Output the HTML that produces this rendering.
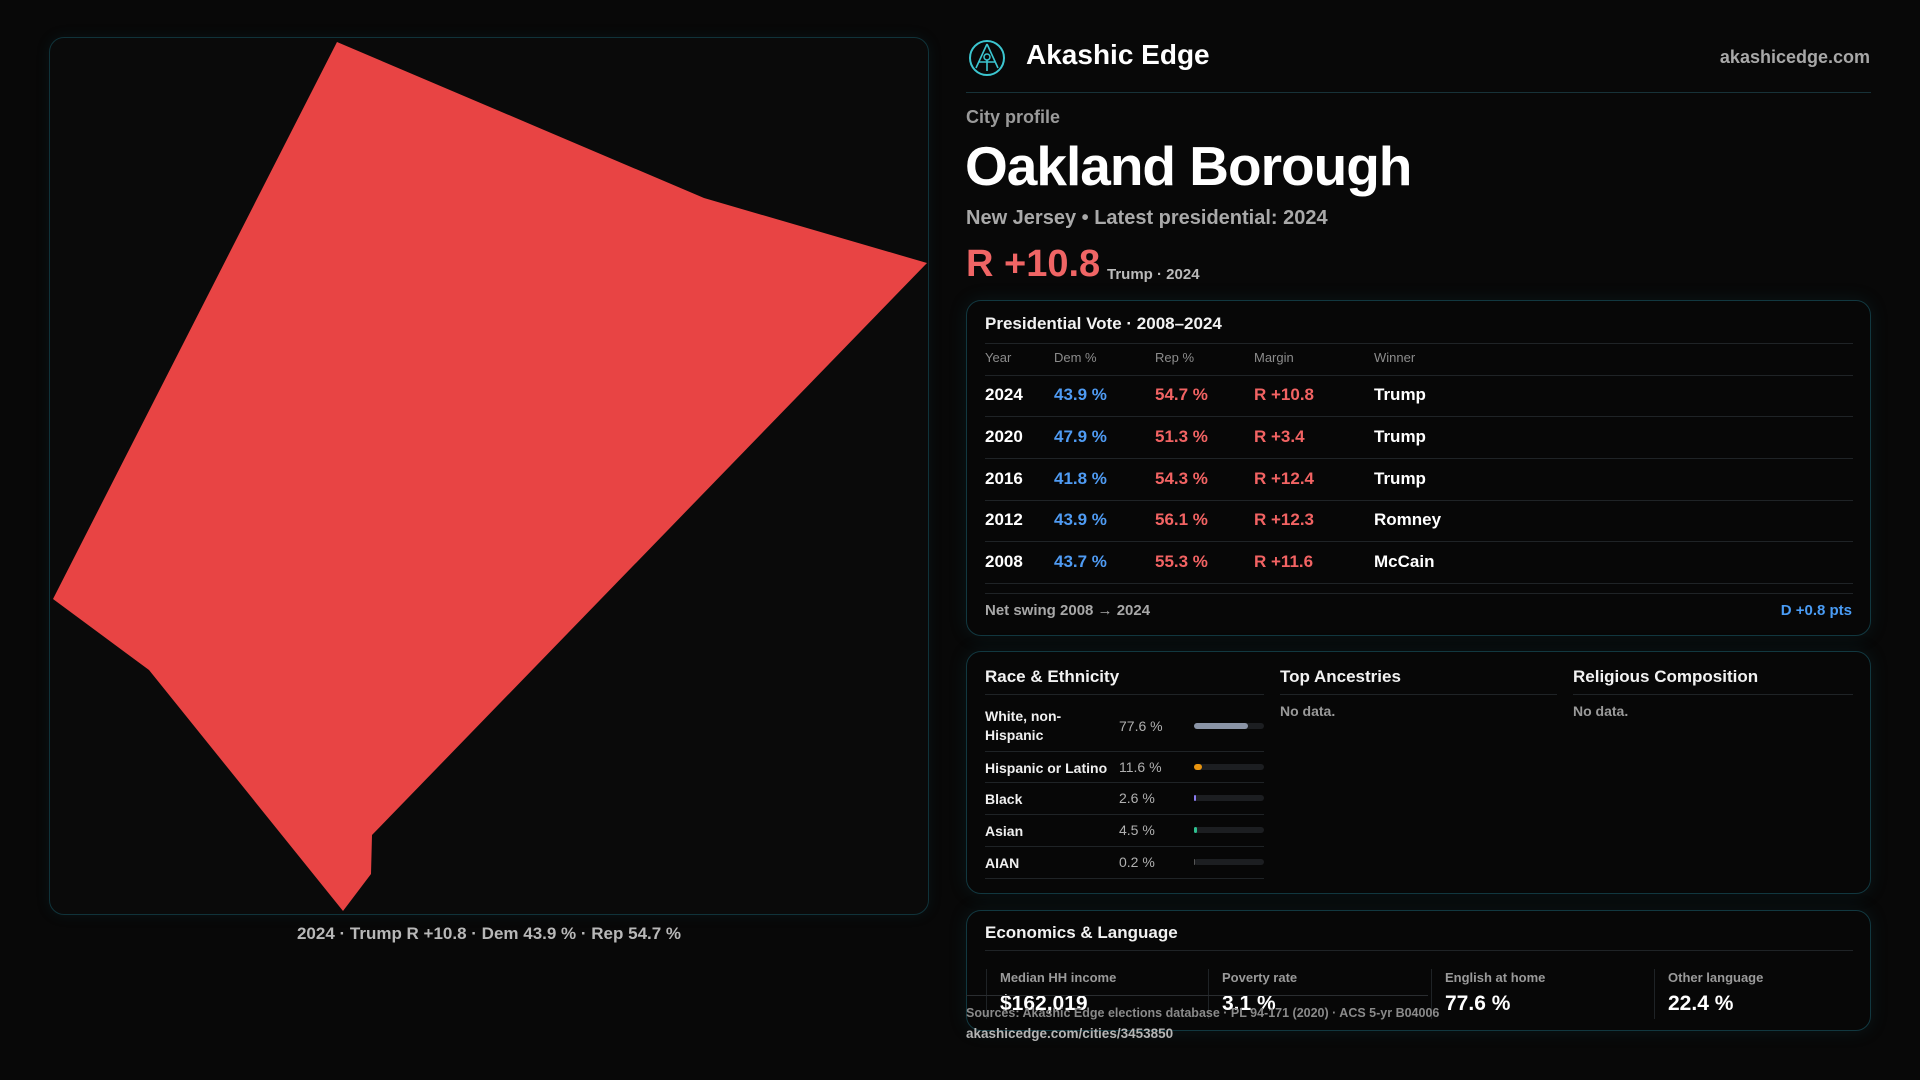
<!DOCTYPE html>
<html><head><meta charset="utf-8">
<style>
*{box-sizing:border-box;margin:0;padding:0}
body{width:1920px;height:1080px;background:#080808;font-family:"Liberation Sans",sans-serif;color:#fff;position:relative;overflow:hidden}
.abs{position:absolute}
.card{position:absolute;left:966px;width:905px;border:1px solid #123840;border-radius:15px;background:#070707;box-shadow:0 0 18px rgba(20,90,100,0.18)}
.ct{position:absolute;font-size:17px;font-weight:bold;color:#f2f2f2;white-space:nowrap}
.ln{position:absolute;height:1px;background:#1f2326}
.t{position:absolute;white-space:nowrap}
</style></head><body>
<div class="abs" style="left:49px;top:37px;width:880px;height:878px;border:1px solid #10333a;border-radius:15px;background:#0a0a0a;box-shadow:0 0 14px rgba(20,90,100,0.15)"></div>
<svg class="abs" style="left:0;top:0" width="960" height="960">
<polygon id="shape" fill="#e84444" points=""/>
</svg>
<div class="t" style="left:49px;width:880px;text-align:center;top:924px;font-size:17px;font-weight:bold;color:#b8b8b8">2024 · Trump R +10.8 · Dem 43.9 % · Rep 54.7 %</div>

<svg class="abs" style="left:967px;top:38px" width="40" height="40">
<circle cx="20" cy="20" r="17" fill="none" stroke="#3cc6d0" stroke-width="2"/>
<path d="M20 6 L9 30 M20 6 L31 30 M12 24 L28 24" stroke="#3cc6d0" stroke-width="1.6" fill="none"/>
<circle cx="20" cy="19" r="3" fill="none" stroke="#3cc6d0" stroke-width="1.5"/><path d="M20 22 L20 33" stroke="#3cc6d0" stroke-width="1.6"/>
</svg>
<div class="t" style="left:1026px;top:39px;font-size:28px;font-weight:bold">Akashic Edge</div>
<div class="t" style="right:50px;top:47px;font-size:18px;font-weight:bold;color:#a8a8a8">akashicedge.com</div>
<div class="ln" style="left:966px;width:905px;top:92px;background:#173238"></div>
<div class="t" style="left:966px;top:107px;font-size:18px;color:#9a9a9a;font-weight:bold">City profile</div>
<div class="t" style="left:965px;top:134px;font-size:55px;font-weight:bold;letter-spacing:-1px">Oakland Borough</div>
<div class="t" style="left:966px;top:207px;font-size:20px;font-weight:bold;color:#a9a9a9">New Jersey • Latest presidential: 2024</div>
<div class="t" style="left:966px;top:243px;font-size:38px;font-weight:bold;color:#f06565">R +10.8</div>
<div class="t" style="left:1107px;top:266px;font-size:15px;font-weight:bold;color:#bbb">Trump · 2024</div>

<div class="card" style="top:300px;height:336px"></div>
<div class="ct" style="left:985px;top:314px">Presidential Vote · 2008–2024</div>
<div class="ln" style="left:985px;width:868px;top:343px"></div>
<div id="vote"></div>
<div class="t" style="left:985px;top:602px;font-size:15px;font-weight:bold;color:#a8a8a8">Net swing 2008 → 2024</div>
<div class="t" style="right:68px;top:602px;font-size:15px;font-weight:bold;color:#4a9cf5">D +0.8 pts</div>

<div class="card" style="top:651px;height:243px"></div>
<div class="ct" style="left:985px;top:667px">Race &amp; Ethnicity</div>
<div class="ln" style="left:985px;width:279px;top:694px"></div>
<div class="ct" style="left:1280px;top:667px">Top Ancestries</div>
<div class="ln" style="left:1280px;width:277px;top:694px"></div>
<div class="ct" style="left:1573px;top:667px">Religious Composition</div>
<div class="ln" style="left:1573px;width:280px;top:694px"></div>
<div class="t" style="left:1280px;top:703px;font-size:14px;font-weight:bold;color:#9a9a9a">No data.</div>
<div class="t" style="left:1573px;top:703px;font-size:14px;font-weight:bold;color:#9a9a9a">No data.</div>
<div id="race"></div>

<div class="card" style="top:910px;height:121px"></div>
<div class="ct" style="left:985px;top:923px">Economics &amp; Language</div>
<div class="ln" style="left:985px;width:868px;top:950px"></div>
<div id="econ"></div>
<div class="ln" style="left:966px;width:462px;top:995px;background:#2a2d30"></div>
<div class="t" style="left:966px;top:1006px;font-size:12.5px;font-weight:bold;color:#8a8a8a">Sources: Akashic Edge elections database · PL 94-171 (2020) · ACS 5-yr B04006</div>
<div class="t" style="left:966px;top:1026px;font-size:13.5px;font-weight:bold;color:#b5b5b5">akashicedge.com/cities/3453850</div>

<script>
const boundaryX=[337,704,927,372,371,343,149,53];
const boundaryY=[42,198,263,835,874,911,670,599];
const years=["2024","2020","2016","2012","2008"];
const demPct=[43.9,47.9,41.8,43.9,43.7];
const repPct=[54.7,51.3,54.3,56.1,55.3];
const margins=["R +10.8","R +3.4","R +12.4","R +12.3","R +11.6"];
const winners=["Trump","Trump","Trump","Romney","McCain"];
const raceGroups=["White, non-Hispanic","Hispanic or Latino","Black","Asian","AIAN"];
const racePct=[77.6,11.6,2.6,4.5,0.2];
const raceColors=["#8a94a6","#e8940f","#8b7cf0","#2fc08f","#555"];
const econLabels=["Median HH income","Poverty rate","English at home","Other language"];
const econValues=["$162,019","3.1 %","77.6 %","22.4 %"];

document.getElementById('shape').setAttribute('points',boundaryX.map((x,i)=>x+','+boundaryY[i]).join(' '));

function txt(parent,s,x,y,size,color,w){const d=document.createElement('div');d.className='t';d.textContent=s;d.style.left=x+'px';d.style.top=y+'px';d.style.fontSize=size+'px';d.style.color=color;d.style.fontWeight=w||'bold';parent.appendChild(d);return d;}
function line(parent,x,y,w){const d=document.createElement('div');d.className='ln';d.style.left=x+'px';d.style.top=y+'px';d.style.width=w+'px';parent.appendChild(d);return d;}

const vote=document.getElementById('vote');
const cols=[985,1054,1155,1254,1374];
["Year","Dem %","Rep %","Margin","Winner"].forEach((h,i)=>{const e=txt(vote,h,cols[i],350,13,'#8c8c8c','normal');

});
line(vote,985,375,868);
years.forEach((y,i)=>{const top=385+i*41.8;
const r=[y,demPct[i].toFixed(1)+' %',repPct[i].toFixed(1)+' %',margins[i],winners[i]];
const c=['#fff','#4f9bf3','#f26363','#f26363','#fff'];
r.forEach((s,j)=>{const e=txt(vote,s,cols[j],top,17,c[j]);

});
line(vote,985,top+31,868);});
line(vote,985,593,868);

const race=document.getElementById('race');
const rowTops=[705,756,787,819,851];
const rowBot=[751,782,814,846,878];
raceGroups.forEach((g,i)=>{
const n=txt(race,g,985,i==0?707:rowTops[i]+4,14,'#f0f0f0');
if(i==0){n.style.whiteSpace='normal';n.style.width='95px';n.style.lineHeight='19px';}


const cy=i==0?726:(rowBot[i-1]+rowBot[i])/2;
const p=txt(race,racePct[i].toFixed(1)+' %',1119,cy-8,14,'#b0b0b0','normal');


const tr=document.createElement('div');tr.className='t';tr.style.cssText=`left:1194px;top:${cy-3}px;width:70px;height:6px;border-radius:3px;background:#1c1e21`;


race.appendChild(tr);
const f=document.createElement('div');f.className='t';f.style.cssText=`left:1194px;top:${cy-3}px;width:${Math.max(racePct[i]*0.7,racePct[i]>1?2:0)}px;height:6px;border-radius:3px;background:${raceColors[i]}`;


race.appendChild(f);
line(race,985,rowBot[i],279);});

const econ=document.getElementById('econ');
const ex=[986,1208,1431,1654];
econLabels.forEach((l,i)=>{
const dv=document.createElement('div');dv.className='t';dv.style.cssText=`left:${ex[i]}px;top:969px;width:1px;height:50px;background:#1f2326`;econ.appendChild(dv);
const a=txt(econ,l,ex[i]+14,970,13,'#9a9a9a');


const b=txt(econ,econValues[i],ex[i]+14,992,21,'#fff');

});
</script>
</body></html>
